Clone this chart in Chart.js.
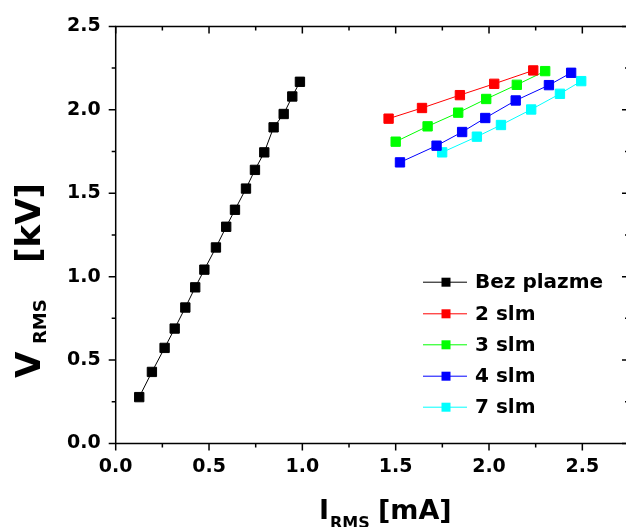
<!DOCTYPE html>
<html>
<head>
<meta charset="utf-8">
<script src="https://cdn.jsdelivr.net/npm/chart.js@4.4.1/dist/chart.umd.min.js"></script>
<style>
  html, body { margin: 0; padding: 0; background: #fff; overflow: hidden; width: 626px; height: 527px; }
  #wrap { position: absolute; left: 0; top: 0; width: 640px; height: 527px; }
</style>
</head>
<body>
<div id="wrap"><canvas id="c" width="640" height="527"></canvas></div>
<script>
// ---- data ----
const seriesNames = ["Bez plazme", "2 slm", "3 slm", "4 slm", "7 slm"];
const seriesColors = ["#000000", "#ff0000", "#00ff00", "#0000ff", "#00ffff"];

const xBez = [0.126, 0.194, 0.262, 0.316, 0.373, 0.426, 0.475, 0.537, 0.592, 0.639, 0.698, 0.746, 0.796, 0.846, 0.900, 0.946, 0.987];
const yBez = [0.278, 0.429, 0.573, 0.689, 0.815, 0.936, 1.042, 1.175, 1.299, 1.401, 1.528, 1.640, 1.745, 1.895, 1.975, 2.080, 2.168];

const x2 = [1.462, 1.641, 1.844, 2.028, 2.237];
const y2 = [1.947, 2.011, 2.088, 2.156, 2.236];

const x3 = [1.500, 1.671, 1.835, 1.985, 2.149, 2.301];
const y3 = [1.809, 1.901, 1.983, 2.065, 2.150, 2.232];

const x4 = [1.523, 1.719, 1.856, 1.980, 2.143, 2.321, 2.440];
const y4 = [1.685, 1.785, 1.867, 1.951, 2.056, 2.148, 2.222];

const x7 = [1.749, 1.935, 2.064, 2.226, 2.380, 2.494];
const y7 = [1.745, 1.839, 1.909, 2.002, 2.096, 2.172];

const xTickLabels = [0, 0.5, 1.0, 1.5, 2.0, 2.5];
const yTickLabels = [0, 0.5, 1.0, 1.5, 2.0, 2.5];
const xMinorTicks = [0.25, 0.75, 1.25, 1.75, 2.25];
const yMinorTicks = [0.25, 0.75, 1.25, 1.75, 2.25];

// ---- build datasets ----
const xs = [xBez, x2, x3, x4, x7];
const ys = [yBez, y2, y3, y4, y7];
const datasets = seriesNames.map((name, i) => ({
  label: name,
  data: xs[i].map((x, j) => ({ x: x, y: ys[i][j] })),
  borderColor: seriesColors[i],
  backgroundColor: seriesColors[i],
  borderWidth: 1,
  pointStyle: 'rect',
  pointRadius: 6.6,
  pointHoverRadius: 6.6,
  pointBorderWidth: 1,
  pointBorderColor: seriesColors[i],
  pointBackgroundColor: seriesColors[i],
  tension: 0,
  fill: false
}));

const FONT = '"DejaVu Sans", sans-serif';

// frame + ticks (Origin style)
const framePlugin = {
  id: 'frame',
  afterDraw(chart) {
    const { ctx, chartArea: a, scales } = chart;
    const xs = scales.x, ys = scales.y;
    ctx.save();
    ctx.strokeStyle = '#000';
    ctx.lineWidth = 1.5;
    ctx.beginPath();
    ctx.rect(a.left, a.top, a.right - a.left, a.bottom - a.top);
    ctx.stroke();
    const maj = 7, min = 4;
    ctx.beginPath();
    const xt = (v, len) => {
      const p = xs.getPixelForValue(v);
      ctx.moveTo(p, a.bottom); ctx.lineTo(p, a.bottom + len);
      ctx.moveTo(p, a.top); ctx.lineTo(p, a.top + len);
    };
    const yt = (v, len) => {
      const p = ys.getPixelForValue(v);
      ctx.moveTo(a.left, p); ctx.lineTo(a.left - len, p);
      ctx.moveTo(a.right, p); ctx.lineTo(a.right - len, p);
    };
    xTickLabels.forEach(v => xt(v, maj));
    xMinorTicks.forEach(v => xt(v, min));
    yTickLabels.forEach(v => yt(v, maj));
    yMinorTicks.forEach(v => yt(v, min));
    ctx.stroke();
    ctx.restore();
  }
};

// rich text axis titles with subscripts (each part has its own offset along the baseline)
function drawRich(ctx, parts, x, y, rot) {
  ctx.save();
  ctx.translate(x, y);
  ctx.rotate(rot);
  ctx.fillStyle = '#000';
  ctx.textBaseline = 'alphabetic';
  ctx.textAlign = 'left';
  parts.forEach(p => {
    ctx.font = 'bold ' + p.size + 'px ' + FONT;
    ctx.fillText(p.text, p.at, p.dy || 0);
  });
  ctx.restore();
}

const titlePlugin = {
  id: 'titles',
  afterDraw(chart) {
    const ctx = chart.ctx;
    drawRich(ctx, [
      { text: 'I', size: 27, at: 0 },
      { text: 'RMS', size: 16, dy: 9, at: 11 },
      { text: '[mA]', size: 27, at: 59 }
    ], 319, 519, 0);
    drawRich(ctx, [
      { text: 'V', size: 34, at: 0 },
      { text: 'RMS', size: 18, dy: 6, at: 34 },
      { text: '[kV]', size: 34, at: 115 }
    ], 40, 378, -Math.PI / 2);
  }
};

// legend drawn inside the plot, from the datasets
const legendPlugin = {
  id: 'insideLegend',
  afterDraw(chart) {
    const ctx = chart.ctx;
    const rowY = [281.7, 313.3, 344.3, 375.7, 406.7];
    ctx.save();
    chart.data.datasets.forEach((ds, i) => {
      const y = rowY[i];
      ctx.strokeStyle = ds.borderColor;
      ctx.lineWidth = 1;
      ctx.beginPath();
      ctx.moveTo(423, y + 0.5); ctx.lineTo(467, y + 0.5);
      ctx.stroke();
      ctx.fillStyle = ds.backgroundColor;
      ctx.fillRect(441.5, y - 4, 9, 9);
      ctx.fillStyle = '#000';
      ctx.font = 'bold 20px ' + FONT;
      ctx.textBaseline = 'middle';
      ctx.textAlign = 'left';
      ctx.fillText(ds.label, 475, y + 1);
    });
    ctx.restore();
  }
};

new Chart(document.getElementById('c'), {
  type: 'line',
  data: { datasets: datasets },
  options: {
    responsive: false,
    animation: false,
    devicePixelRatio: 1,
    layout: { padding: { left: 0, right: 11, top: 25.5, bottom: 0 } },
    plugins: { legend: { display: false }, tooltip: { enabled: false } },
    scales: {
      x: {
        type: 'linear',
        min: 0, max: 2.75,
        grid: { display: false, drawTicks: false },
        border: { display: false },
        afterFit(scale) { scale.height = 83.5; },
        afterBuildTicks(scale) { scale.ticks = xTickLabels.map(v => ({ value: v })); },
        ticks: {
          padding: 12,
          color: '#000',
          font: { family: FONT, size: 19, weight: 'bold' },
          maxRotation: 0,
          autoSkip: false,
          callback: v => v.toFixed(1)
        }
      },
      y: {
        type: 'linear',
        min: 0, max: 2.5,
        grid: { display: false, drawTicks: false },
        border: { display: false },
        afterFit(scale) { scale.width = 115.7; },
        afterBuildTicks(scale) { scale.ticks = yTickLabels.map(v => ({ value: v })); },
        ticks: {
          padding: 15,
          color: '#000',
          font: { family: FONT, size: 19, weight: 'bold' },
          autoSkip: false,
          callback: v => v.toFixed(1)
        }
      }
    }
  },
  plugins: [framePlugin, titlePlugin, legendPlugin]
});
</script>
</body>
</html>
